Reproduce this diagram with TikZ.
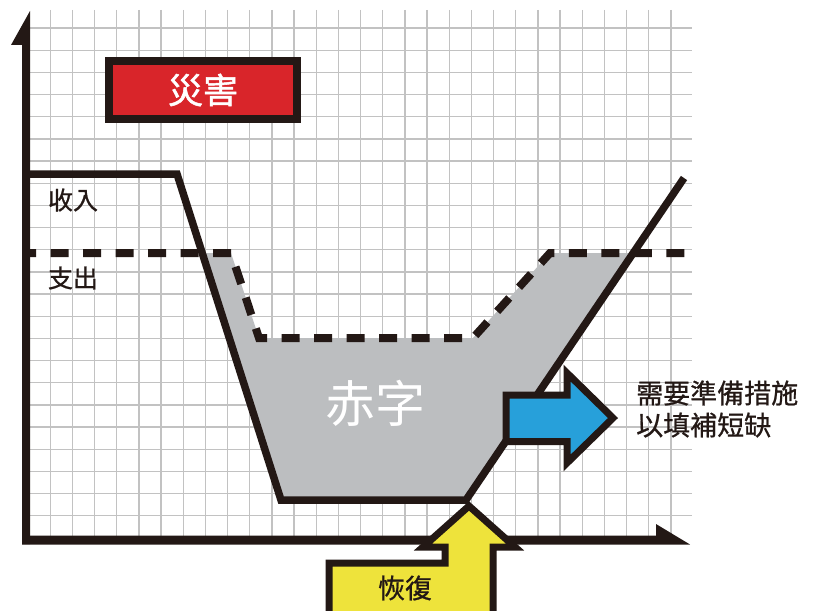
\documentclass[tikz,border=0pt]{standalone}
\usepackage{fontspec}
\newfontfamily\cjk{Noto Sans CJK TC}
\newfontfamily\cjkmed[FakeBold=0.8]{Noto Sans CJK TC}
\newfontfamily\cjkhead[FakeBold=1.5]{Noto Sans CJK TC}
\definecolor{inkc}{HTML}{231815}
\definecolor{gridc}{HTML}{C2C2C2}
\definecolor{deficitc}{HTML}{BCBEC0}
\definecolor{redc}{HTML}{D9252A}
\definecolor{bluec}{HTML}{27A0DA}
\definecolor{yellowc}{HTML}{EEE33B}
\begin{document}
\begin{tikzpicture}[x=1pt,y=-1pt,
  gridline/.style={draw=gridc, line width=1.3pt},
  inkline/.style={draw=inkc, line width=7.5pt, line join=miter, miter limit=10},
  dashline/.style={draw=inkc, line width=8pt, dash pattern=on 18pt off 14.5pt, dash phase=8pt},
  blockarrow/.style={draw=inkc, line width=7pt, line join=miter, miter limit=10},
  lbl/.style={font=\cjkmed\fontsize{25}{30}\selectfont, text=inkc, inner sep=0pt},
]
\useasboundingbox (0,0) rectangle (818,610);
\fill[white] (0,0) rectangle (818,610);
% grid
\foreach \k in {1,...,29} \draw[gridline] ({28+22.17*\k},10) -- ({28+22.17*\k},540);
\foreach \k in {0,...,22} \draw[gridline] (26,{28+22.17*\k}) -- (692,{28+22.17*\k});
% coordinates
\coordinate (i0) at (26,174);
\coordinate (i1) at (177,174);
\coordinate (i2) at (281,500);
\coordinate (i3) at (466,500);
\coordinate (i4) at (684,178);
\coordinate (e0) at (26,253);
\coordinate (e1) at (231,253);
\coordinate (e2) at (259,338);
\coordinate (e3) at (473,338);
\coordinate (e4) at (550,253);
\coordinate (e5) at (691,253);
\coordinate (x1) at (202.2,253);
\coordinate (x2) at (633.2,253);
% deficit area
\fill[deficitc] (x1) -- (e1) -- (e2) -- (e3) -- (e4) -- (x2) -- (i3) -- (i2) -- cycle;
% expense (dashed) and income (solid)
\draw[dashline] (e0) -- (e1) -- (e2) -- (e3) -- (e4) -- (e5);
\draw[inkline] (i0) -- (i1) -- (i2) -- (i3) -- (i4);
% axes
\fill[inkc] (22,544) -- (22,45) -- (11,45) -- (30,11) -- (30,544) -- cycle;
\fill[inkc] (22,535.5) -- (656,535.5) -- (656,524) -- (690,544.5) -- (22,544.5) -- cycle;
% blue arrow
\draw[blockarrow, fill=bluec] (506,395) -- (567,395) -- (567,373) -- (613,418) -- (567,463) -- (567,441.5) -- (506,441.5) -- cycle;
% yellow arrow
\draw[blockarrow, fill=yellowc] (329,625) -- (329,563) -- (445,563) -- (445,547) -- (423,547) -- (469,506) -- (515,547) -- (493,547) -- (493,625) -- cycle;
% red box
\node[draw=inkc, line width=8pt, fill=redc, minimum width=188pt, minimum height=58pt, inner sep=0pt,
      font=\cjkhead\fontsize{35}{37}\selectfont, text=white] (dis) at (203,90) {災害};
% labels
\node[lbl] (inc) at (73,200) {收入};
\node[lbl] (exp) at (73,278) {支出};
\node[font=\cjk\fontsize{50}{52}\selectfont, text=white, inner sep=0pt] (def) at (375,403) {赤字};
\node[lbl, font=\cjkmed\fontsize{27}{32}\selectfont, anchor=west, align=left] (need) at (636,409) {需要準備措施\\以填補短缺};
\node[lbl, font=\cjkmed\fontsize{27}{30}\selectfont] (rec) at (405,588) {恢復};
\end{tikzpicture}
\end{document}
